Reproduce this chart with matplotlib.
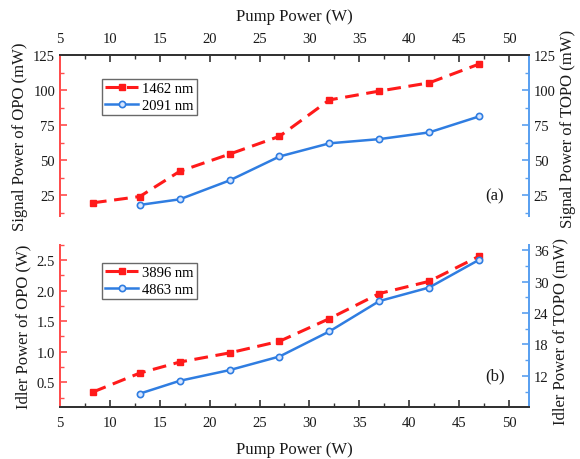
import matplotlib
matplotlib.use("Agg")
import matplotlib.pyplot as plt
from matplotlib.ticker import MultipleLocator

plt.rcParams['font.family'] = ['Liberation Serif', 'DejaVu Serif']
plt.rcParams['mathtext.fontset'] = 'stix'

# Data
pump_red = [8.3, 13, 17, 22, 27, 32, 37, 42, 47]
pump_blue = [13, 17, 22, 27, 32, 37, 42, 47]
signal_1462 = [19.5, 24, 42, 54.3, 67, 93, 99.3, 105.2, 118.6]
signal_2091 = [18, 22, 35.5, 52.6, 62, 65, 69.8, 81.2]
idler_3896 = [0.34, 0.65, 0.83, 0.98, 1.17, 1.54, 1.95, 2.15, 2.56]
idler_4863 = [8.6, 11.05, 13.1, 15.7, 20.5, 26.3, 28.9, 34.2]

RED = '#ff1a1a'
BLUE = '#2f7de1'
RSP = '#ff4d4d'
BSP = '#5aa0f0'
DARK = '#333333'
TXT = '#1a1a1a'

fig = plt.figure(figsize=(5.8, 4.6), dpi=100)
ax1 = fig.add_axes([0.1034, 0.528, 0.8086, 0.350])
ax2 = fig.add_axes([0.1034, 0.1137, 0.8086, 0.3523])
ax1r = ax1.twinx()
ax2r = ax2.twinx()

fs = 10.5
lfs = 12

# Top panel
l1, = ax1.plot(pump_red, signal_1462, color=RED, ls=(0, (4.5, 2.5)), lw=2.2,
               marker='s', ms=5, mfc=RED, mec=RED, label='1462 nm')
l2, = ax1r.plot(pump_blue, signal_2091, color=BLUE, ls='-', lw=1.8,
                marker='o', ms=4.5, mfc='#d8e6ff', mec=BLUE, mew=1.2, label='2091 nm')
ax1.set_xlim(5, 52)
ax1.set_ylim(10, 125)
ax1r.set_ylim(10, 125)

# Bottom panel
l3, = ax2.plot(pump_red, idler_3896, color=RED, ls=(0, (4.5, 2.5)), lw=2.2,
               marker='s', ms=5, mfc=RED, mec=RED, label='3896 nm')
l4, = ax2r.plot(pump_blue, idler_4863, color=BLUE, ls='-', lw=1.8,
                marker='o', ms=4.5, mfc='#d8e6ff', mec=BLUE, mew=1.2, label='4863 nm')
ax2.set_xlim(5, 52)
ax2.set_ylim(0.1, 2.75)
ax2r.set_ylim(6.1, 37.1)

for ax in (ax1, ax1r, ax2, ax2r):
    ax.set_facecolor('none')
    ax.xaxis.set_major_locator(MultipleLocator(5))
    ax.xaxis.set_minor_locator(MultipleLocator(2.5))

for ax in (ax1, ax1r):
    ax.spines['bottom'].set_visible(False)
    ax.spines['top'].set_color(DARK)
    ax.spines['left'].set_color(RSP)
    ax.spines['right'].set_color(BSP)
    for s in ('top', 'left', 'right'):
        ax.spines[s].set_linewidth(1.4)
for ax in (ax2, ax2r):
    ax.spines['top'].set_visible(False)
    ax.spines['bottom'].set_color(DARK)
    ax.spines['left'].set_color(RSP)
    ax.spines['right'].set_color(BSP)
    for s in ('bottom', 'left', 'right'):
        ax.spines[s].set_linewidth(1.4)

ax1.xaxis.tick_top()
ax1.xaxis.set_label_position('top')
ax1.tick_params(axis='x', which='both', direction='in', top=True, bottom=False,
                colors=DARK, labelsize=fs, labelcolor=TXT, pad=7)
ax1.tick_params(axis='x', which='major', length=5, width=1.2)
ax1.tick_params(axis='x', which='minor', length=3, width=1.0)
ax1r.tick_params(axis='x', which='both', top=False, bottom=False, labeltop=False, labelbottom=False)
ax1.set_xlabel('Pump Power (W)', fontsize=lfs, labelpad=9, color=TXT)

ax1.yaxis.set_major_locator(MultipleLocator(25))
ax1.yaxis.set_minor_locator(MultipleLocator(12.5))
ax1r.yaxis.set_major_locator(MultipleLocator(25))
ax1r.yaxis.set_minor_locator(MultipleLocator(12.5))
ax1.tick_params(axis='y', which='both', direction='in', colors=RSP, labelcolor=TXT, labelsize=fs)
ax1r.tick_params(axis='y', which='both', direction='in', colors=BSP, labelcolor=TXT, labelsize=fs)
for a in (ax1, ax1r, ax2, ax2r):
    a.tick_params(axis='y', which='major', length=5, width=1.2)
    a.tick_params(axis='y', which='minor', length=3, width=1.0)
ax1.set_ylabel('Signal Power of OPO (mW)', fontsize=lfs, labelpad=4, color=TXT)
ax1r.set_ylabel('Signal Power of TOPO (mW)', fontsize=lfs, labelpad=3, color=TXT)
ax1r.yaxis.label.set_y(0.55)

ax2.tick_params(axis='x', which='both', direction='in', top=False, bottom=True,
                colors=DARK, labelsize=fs, labelcolor=TXT, pad=7)
ax2.tick_params(axis='x', which='major', length=5, width=1.2)
ax2.tick_params(axis='x', which='minor', length=3, width=1.0)
ax2r.tick_params(axis='x', which='both', top=False, bottom=False, labeltop=False, labelbottom=False)
ax2.set_xlabel('Pump Power (W)', fontsize=lfs, labelpad=8, color=TXT)

ax2.yaxis.set_major_locator(MultipleLocator(0.5))
ax2.yaxis.set_minor_locator(MultipleLocator(0.25))
ax2r.yaxis.set_major_locator(MultipleLocator(6))
ax2r.yaxis.set_minor_locator(MultipleLocator(3))
ax2.tick_params(axis='y', which='both', direction='in', colors=RSP, labelcolor=TXT, labelsize=fs)
ax2r.tick_params(axis='y', which='both', direction='in', colors=BSP, labelcolor=TXT, labelsize=fs)
ax2.yaxis.set_major_formatter(matplotlib.ticker.FormatStrFormatter('%.1f'))
ax2r.set_yticks([12, 18, 24, 30, 36])
ax2.set_ylabel('Idler Power of OPO (W)', fontsize=lfs, labelpad=4, color=TXT)
ax2r.set_ylabel('Idler Power of TOPO (mW)', fontsize=lfs, labelpad=3, color=TXT)
ax2r.yaxis.label.set_y(0.47)

leg_kw = dict(fontsize=fs, frameon=True, fancybox=False, edgecolor='#444444',
              handlelength=2.3, borderpad=0.2, labelspacing=0.25, handletextpad=0.25,
              borderaxespad=0.0)
leg1 = ax1.legend(handles=[l1, l2], loc='upper left', bbox_to_anchor=(0.0896, 0.851), **leg_kw)
leg1.get_frame().set_linewidth(1.0)
leg2 = ax2.legend(handles=[l3, l4], loc='upper left', bbox_to_anchor=(0.0896, 0.889), **leg_kw)
leg2.get_frame().set_linewidth(1.0)

ax1.text(0.927, 0.13, '(a)', transform=ax1.transAxes, fontsize=lfs, ha='center', va='center', color=TXT)
ax2.text(0.927, 0.195, '(b)', transform=ax2.transAxes, fontsize=lfs, ha='center', va='center', color=TXT)

fig.savefig('out.png', dpi=100)
